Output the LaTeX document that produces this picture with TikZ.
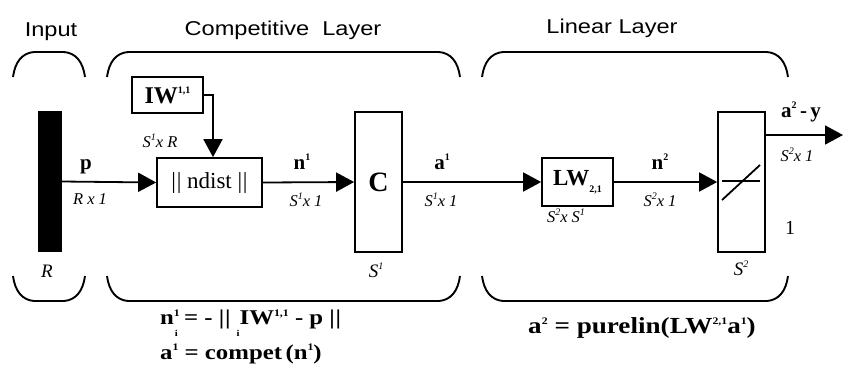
\documentclass[tikz,border=0pt]{standalone}
\usepackage{fontspec}
\setmainfont{Liberation Serif}
\newfontfamily\sanss[FakeStretch=1.18]{Liberation Sans}
\newfontfamily\eqf[FakeStretch=1.18]{Liberation Serif}
\usetikzlibrary{arrows.meta}
\newcommand{\dbar}{|\kern0.8pt|}
\newcommand{\sps}[1]{\raisebox{0.42em}{\fontsize{10}{10}\selectfont #1}}
\newcommand{\sbs}[1]{\raisebox{-0.3em}{\fontsize{10}{10}\selectfont #1}}
\newcommand{\lowsb}[1]{\raisebox{-0.55em}{\fontsize{9}{9}\selectfont #1}}
\newcommand{\topbrk}[2]{\draw[brk] (#1,77) .. controls (#1+2,62) and (#1+9,53) .. (#1+21,52) -- (#2-21,52) .. controls (#2-9,53) and (#2-2,62) .. (#2,77);}
\newcommand{\botbrk}[2]{\draw[brk] (#1,276) .. controls (#1+2,291) and (#1+9,300) .. (#1+21,301) -- (#2-21,301) .. controls (#2-9,300) and (#2-2,291) .. (#2,276);}
\begin{document}
\begin{tikzpicture}[x=1pt,y=-1pt,
  ln/.style={line width=1.8pt},
  arr/.style={ln,-{Triangle[length=18pt,width=19pt]}},
  box/.style={draw,line width=1.7pt,inner sep=0pt},
  brk/.style={line width=1.9pt},
  ttl/.style={font=\sanss\fontsize{20}{22}\selectfont},
  lbl/.style={font=\bfseries\fontsize{21}{23}\selectfont,inner sep=0pt},
  dim/.style={font=\itshape\fontsize{16.5}{18}\selectfont,inner sep=0pt},
  big/.style={font=\itshape\fontsize{19}{21}\selectfont,inner sep=0pt},
  eq/.style={font=\eqf\bfseries\fontsize{21}{23}\selectfont,inner sep=0pt}]
\useasboundingbox (0,0) rectangle (843,376);

% titles
\node[ttl] (tin) at (51,32) {Input};
\node[ttl] (tcomp) at (283,30) {Competitive\ \ Layer};
\node[ttl] (tlin) at (612,28) {Linear Layer};

% brackets
\topbrk{13}{85}
\topbrk{107}{460}
\topbrk{482}{788}
\botbrk{13}{85}
\botbrk{107}{460}
\botbrk{482}{788}

% blocks
\node[fill=black,inner sep=0pt,minimum width=24pt,minimum height=141pt] (bar) at (50,181.5) {};
\node[box,minimum width=105pt,minimum height=49pt] (nd) at (209.5,182.5) {\fontsize{23}{25}\selectfont\dbar\ ndist \dbar};
\node[box,minimum width=71pt,minimum height=36pt] (iw) at (167.5,95) {\bfseries\fontsize{24}{26}\selectfont IW\sps{1,1}};
\node[box,minimum width=47pt,minimum height=140pt] (c) at (378.5,182) {\bfseries\fontsize{28}{30}\selectfont C};
\node[box,minimum width=71pt,minimum height=48pt] (lw) at (577.5,182) {\bfseries\fontsize{23}{25}\selectfont LW\sbs{2,1}};
\node[box,minimum width=47pt,minimum height=140pt] (pl) at (741.5,182) {};
\draw[ln] (722,181) -- (760,181);
\draw[ln] (722,200) -- (760,165);

% connectors
\draw[arr] (bar.east) -- (nd.west);
\draw[arr] (iw.east) -| ([xshift=3.5pt]nd.north);
\draw[arr] (nd.east) -- (c.west);
\draw[arr] (c.east) -- (lw.west);
\draw[arr] (lw.east) -- (pl.west);
\coordinate (out) at (843,135);
\draw[arr] (pl.east |- out) -- (out);

% labels
\node[lbl] (lp) at (86,167) {p};
\node[dim] (lrx1) at (90,199) {R x 1};
\node[dim] (ls1r) at (160,141) {S\sps{1}x R};
\node[lbl] (ln1) at (302,162) {n\sps{1}};
\node[dim] (ls1a) at (306,200) {S\sps{1}x 1};
\node[lbl] (la1) at (442,162) {a\sps{1}};
\node[dim] (ls1b) at (441,200) {S\sps{1}x 1};
\node[dim] (ls2s1) at (566,216) {S\sps{2}x S\sps{1}};
\node[lbl] (ln2) at (660,162) {n\sps{2}};
\node[dim] (ls2a) at (660,200) {S\sps{2}x 1};
\node[lbl] (la2) at (801,112) {a\sps{2}\,-\,y};
\node[dim] (ls2b) at (797,155) {S\sps{2}x 1};
\node[font=\fontsize{20}{22}\selectfont] (lone) at (790,228) {1};
\node[big] (lR) at (47,271) {R};
\node[big] (lS1) at (376,270) {S\sps{1}};
\node[big] (lS2) at (741,268) {S\sps{2}};

% equations
\node[eq,anchor=west] (eq1) at (160,323) {n\sps{1}\kern-5pt\lowsb{i}\ = - \dbar\ \lowsb{i}IW\sps{1,1} - p \dbar};
\node[eq,anchor=west] (eq2) at (160,354) {a\sps{1} = compet\,(n\sps{1})};
\node[eq,font=\eqf\bfseries\fontsize{23}{25}\selectfont] (eq3) at (642,328) {a\sps{2} = purelin(LW\sps{2,1}a\sps{1})};
\end{tikzpicture}
\end{document}
